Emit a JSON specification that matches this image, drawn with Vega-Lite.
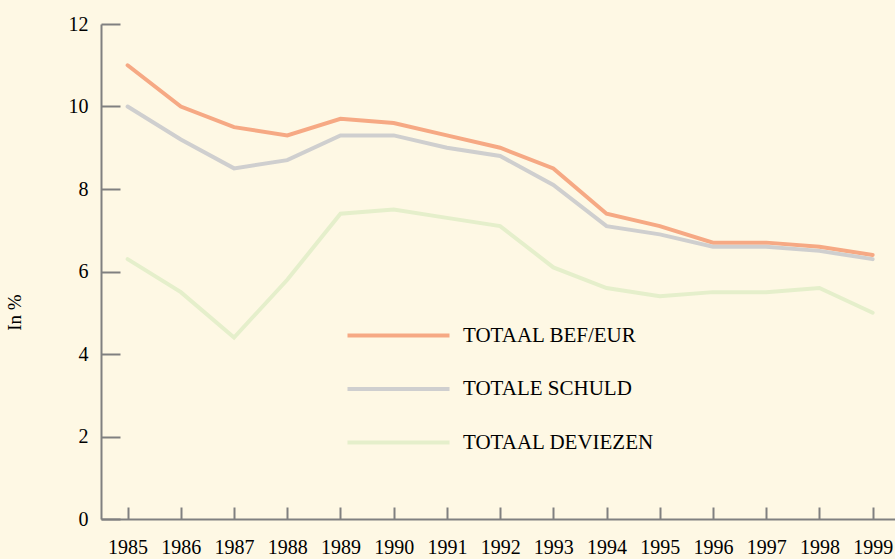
{
  "$schema": "https://vega.github.io/schema/vega-lite/v6.json",
  "width": 794,
  "height": 495,
  "padding": {"left": 101, "top": 24, "right": 0, "bottom": 40},
  "autosize": {"type": "none"},
  "background": "#FEF8E4",
  "config": {
    "view": {"stroke": null},
    "font": "Liberation Serif"
  },
  "data": {
    "values": [
      {"year": 1985, "series": "TOTAAL BEF/EUR", "value": 11.0},
      {"year": 1986, "series": "TOTAAL BEF/EUR", "value": 10.0},
      {"year": 1987, "series": "TOTAAL BEF/EUR", "value": 9.5},
      {"year": 1988, "series": "TOTAAL BEF/EUR", "value": 9.3},
      {"year": 1989, "series": "TOTAAL BEF/EUR", "value": 9.7},
      {"year": 1990, "series": "TOTAAL BEF/EUR", "value": 9.6},
      {"year": 1991, "series": "TOTAAL BEF/EUR", "value": 9.3},
      {"year": 1992, "series": "TOTAAL BEF/EUR", "value": 9.0},
      {"year": 1993, "series": "TOTAAL BEF/EUR", "value": 8.5},
      {"year": 1994, "series": "TOTAAL BEF/EUR", "value": 7.4},
      {"year": 1995, "series": "TOTAAL BEF/EUR", "value": 7.1},
      {"year": 1996, "series": "TOTAAL BEF/EUR", "value": 6.7},
      {"year": 1997, "series": "TOTAAL BEF/EUR", "value": 6.7},
      {"year": 1998, "series": "TOTAAL BEF/EUR", "value": 6.6},
      {"year": 1999, "series": "TOTAAL BEF/EUR", "value": 6.4},
      {"year": 1985, "series": "TOTALE SCHULD", "value": 10.0},
      {"year": 1986, "series": "TOTALE SCHULD", "value": 9.2},
      {"year": 1987, "series": "TOTALE SCHULD", "value": 8.5},
      {"year": 1988, "series": "TOTALE SCHULD", "value": 8.7},
      {"year": 1989, "series": "TOTALE SCHULD", "value": 9.3},
      {"year": 1990, "series": "TOTALE SCHULD", "value": 9.3},
      {"year": 1991, "series": "TOTALE SCHULD", "value": 9.0},
      {"year": 1992, "series": "TOTALE SCHULD", "value": 8.8},
      {"year": 1993, "series": "TOTALE SCHULD", "value": 8.1},
      {"year": 1994, "series": "TOTALE SCHULD", "value": 7.1},
      {"year": 1995, "series": "TOTALE SCHULD", "value": 6.9},
      {"year": 1996, "series": "TOTALE SCHULD", "value": 6.6},
      {"year": 1997, "series": "TOTALE SCHULD", "value": 6.6},
      {"year": 1998, "series": "TOTALE SCHULD", "value": 6.5},
      {"year": 1999, "series": "TOTALE SCHULD", "value": 6.3},
      {"year": 1985, "series": "TOTAAL DEVIEZEN", "value": 6.3},
      {"year": 1986, "series": "TOTAAL DEVIEZEN", "value": 5.5},
      {"year": 1987, "series": "TOTAAL DEVIEZEN", "value": 4.4},
      {"year": 1988, "series": "TOTAAL DEVIEZEN", "value": 5.8},
      {"year": 1989, "series": "TOTAAL DEVIEZEN", "value": 7.4},
      {"year": 1990, "series": "TOTAAL DEVIEZEN", "value": 7.5},
      {"year": 1991, "series": "TOTAAL DEVIEZEN", "value": 7.3},
      {"year": 1992, "series": "TOTAAL DEVIEZEN", "value": 7.1},
      {"year": 1993, "series": "TOTAAL DEVIEZEN", "value": 6.1},
      {"year": 1994, "series": "TOTAAL DEVIEZEN", "value": 5.6},
      {"year": 1995, "series": "TOTAAL DEVIEZEN", "value": 5.4},
      {"year": 1996, "series": "TOTAAL DEVIEZEN", "value": 5.5},
      {"year": 1997, "series": "TOTAAL DEVIEZEN", "value": 5.5},
      {"year": 1998, "series": "TOTAAL DEVIEZEN", "value": 5.6},
      {"year": 1999, "series": "TOTAAL DEVIEZEN", "value": 5.0}
    ]
  },
  "mark": {"type": "line", "strokeWidth": 4, "strokeCap": "round", "strokeJoin": "miter"},
  "encoding": {
    "x": {
      "field": "year",
      "type": "quantitative",
      "scale": {"domain": [1984.5, 1999.42], "nice": false, "zero": false},
      "axis": {
        "title": null,
        "values": [1985, 1986, 1987, 1988, 1989, 1990, 1991, 1992, 1993, 1994, 1995, 1996, 1997, 1998, 1999],
        "format": "d",
        "grid": false,
        "domainColor": "#808080",
        "domainWidth": 2,
        "tickColor": "#808080",
        "tickWidth": 2,
        "tickSize": -12,
        "labelPadding": 30,
        "labelFontSize": 20,
        "labelColor": "#000000",
        "labelFont": "Liberation Serif"
      }
    },
    "y": {
      "field": "value",
      "type": "quantitative",
      "scale": {"domain": [0, 12], "nice": false},
      "axis": {
        "title": "In %",
        "values": [0, 2, 4, 6, 8, 10, 12],
        "grid": false,
        "domainColor": "#808080",
        "domainWidth": 2,
        "tickColor": "#808080",
        "tickWidth": 2,
        "tickSize": -19,
        "labelPadding": 32,
        "labelFontSize": 20,
        "labelColor": "#000000",
        "labelFont": "Liberation Serif",
        "titleFont": "Liberation Serif",
        "titleFontSize": 19,
        "titleFontWeight": "normal",
        "titleColor": "#000000",
        "titleX": -77,
        "titleY": 288,
        "titleAngle": 270
      }
    },
    "color": {
      "field": "series",
      "type": "nominal",
      "sort": ["TOTAAL BEF/EUR", "TOTALE SCHULD", "TOTAAL DEVIEZEN"],
      "scale": {
        "domain": ["TOTAAL BEF/EUR", "TOTALE SCHULD", "TOTAAL DEVIEZEN"],
        "range": ["#F6A984", "#CFCFCF", "#E5EFCB"]
      },
      "legend": {
        "title": null,
        "orient": "none",
        "legendX": 285,
        "legendY": 299,
        "padding": 0,
        "symbolType": "M-5,0H5",
        "symbolSize": 416,
        "symbolStrokeWidth": 4,
        "symbolFillColor": null,
        "labelOffset": 52,
        "labelFontSize": 21,
        "labelFont": "Liberation Serif",
        "labelColor": "#000000",
        "rowPadding": 30.5,
        "labelLimit": 400
      }
    }
  }
}
